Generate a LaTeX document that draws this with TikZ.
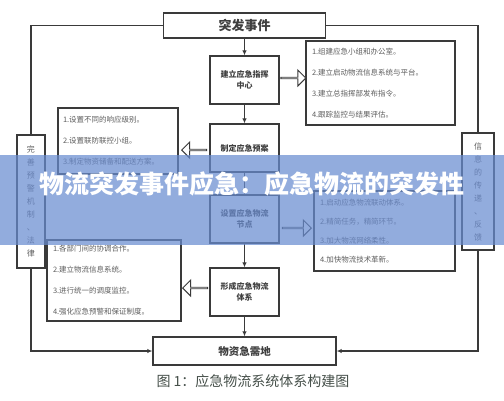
\documentclass[tikz,border=0pt]{standalone}
\usepackage{fontspec}
\setmainfont{Noto Sans CJK SC}
\usetikzlibrary{arrows.meta,shapes.arrows}
\definecolor{linec}{HTML}{3A3A3A}
\definecolor{textc}{HTML}{404040}
\definecolor{listc}{HTML}{5E5E5E}
\definecolor{capc}{HTML}{46504A}
\definecolor{bandc}{RGB}{105,140,208}
\begin{document}
\begin{tikzpicture}[x=1pt,y=-1pt,
  line/.style={draw=linec, line width=1.1pt},
  arr/.style={draw=linec, line width=1.1pt, -{Latex[length=5pt,width=4.5pt]}},
  cbox/.style={draw=linec, line width=1.3pt, fill=white, minimum width=69pt, minimum height=48pt,
    align=center, inner sep=1pt, text=textc, font=\fontsize{8}{11}\selectfont\bfseries},
  lbox/.style={draw=linec, line width=1.2pt, fill=white, align=left, inner sep=0pt,
    text=listc, font=\fontsize{7.5}{21}\selectfont},
  vbox/.style={draw=linec, line width=1.2pt, fill=white, align=center, inner sep=0pt,
    text=listc, font=\fontsize{8}{13}\selectfont},
  harrow/.style={single arrow, draw=linec, line width=0.9pt, fill=white, inner sep=0pt,
    minimum width=16pt, single arrow head extend=4.5pt, minimum height=25pt},
]
\path[use as bounding box, fill=white] (0,0) rectangle (504,400);

% main column
\node[draw=linec, line width=1.4pt, fill=white, minimum width=162pt, minimum height=25pt,
  text=textc, font=\fontsize{13}{13}\selectfont\bfseries] (top) at (244.5,25.5) {突发事件};
\node[cbox] (b2) at (244.5,80) {建立应急指挥\\中心};
\node[cbox] (b3) at (244.5,148) {制定应急预案};
\node[cbox] (b4) at (244.5,219) {设置应急物流\\节点};
\node[cbox] (b5) at (244.5,292) {形成应急物流\\体系};
\node[draw=linec, line width=1.4pt, fill=white, minimum width=183pt, minimum height=28pt,
  text=textc, font=\fontsize{10.5}{10.5}\selectfont\bfseries] (bot) at (244.5,351) {物资急需地};

\draw[arr] (top.south) -- (b2.north);
\draw[arr] (b2.south) -- (b3.north);
\draw[arr] (b3.south) -- (b4.north);
\draw[arr] (b4.south) -- (b5.north);
\draw[arr] (b5.south) -- (bot.north);

% list boxes
\node[lbox, minimum width=149pt, minimum height=84pt, text width=137pt] (r1) at (380.5,83)
  {1.组建应急小组和办公室。\\2.建立启动物流信息系统与平台。\\3.建立总指挥部发布指令。\\4.跟踪监控与结果评估。};
\node[lbox, minimum width=120pt, minimum height=66pt, text width=110pt] (l1) at (118,141)
  {1.设置不同的响应级别。\\2.设置联防联控小组。\\3.制定物资储备和配送方案。};
\node[lbox, minimum width=141pt, minimum height=80pt, text width=129pt, font=\fontsize{7.5}{19}\selectfont] (r2) at (384.5,231)
  {1.启动应急物流联动体系。\\2.精简任务，精简环节。\\3.加大物流网络柔性。\\4.加快物流技术革新。};
\node[lbox, minimum width=134pt, minimum height=81pt, text width=122pt] (l2) at (114,280.5)
  {1.各部门间的协调合作。\\2.建立物流信息系统。\\3.进行统一的调度监控。\\4.强化应急预警和保证制度。};

% hollow arrows
\node[harrow] (h1) at (293,78) {};
\node[harrow, shape border rotate=180] (h2) at (194.5,150) {};
\node[harrow, minimum height=29pt] (h3) at (296.5,228) {};
\node[harrow, shape border rotate=180] (h4) at (195.5,288) {};

% side boxes
\node[vbox, minimum width=28pt, minimum height=133pt] (lv) at (31,201.5)
  {完\\善\\预\\警\\机\\制\\、\\法\\律};
\node[vbox, minimum width=32pt, minimum height=117pt] (rv) at (478,191.5)
  {信\\息\\的\\传\\递\\、\\反\\馈};

\draw[line] (top.west) -| (lv.north);
\draw[arr] (lv.south) |- (bot.west);
\draw[line] (top.east) -| (rv.north);
\draw[arr] (rv.south) |- (bot.east);

% caption
\node[text=capc, font=\fontsize{14}{14}\selectfont] (cap) at (253,381) {图 1：应急物流系统体系构建图};

% overlay band
\fill[bandc, opacity=0.72] (0,155) rectangle (504,245);
\node[text=white, font=\fontsize{25}{25}\selectfont\bfseries] (bt) at (252,184)
  {物流突发事件应急：应急物流的突发性};
\end{tikzpicture}
\end{document}
